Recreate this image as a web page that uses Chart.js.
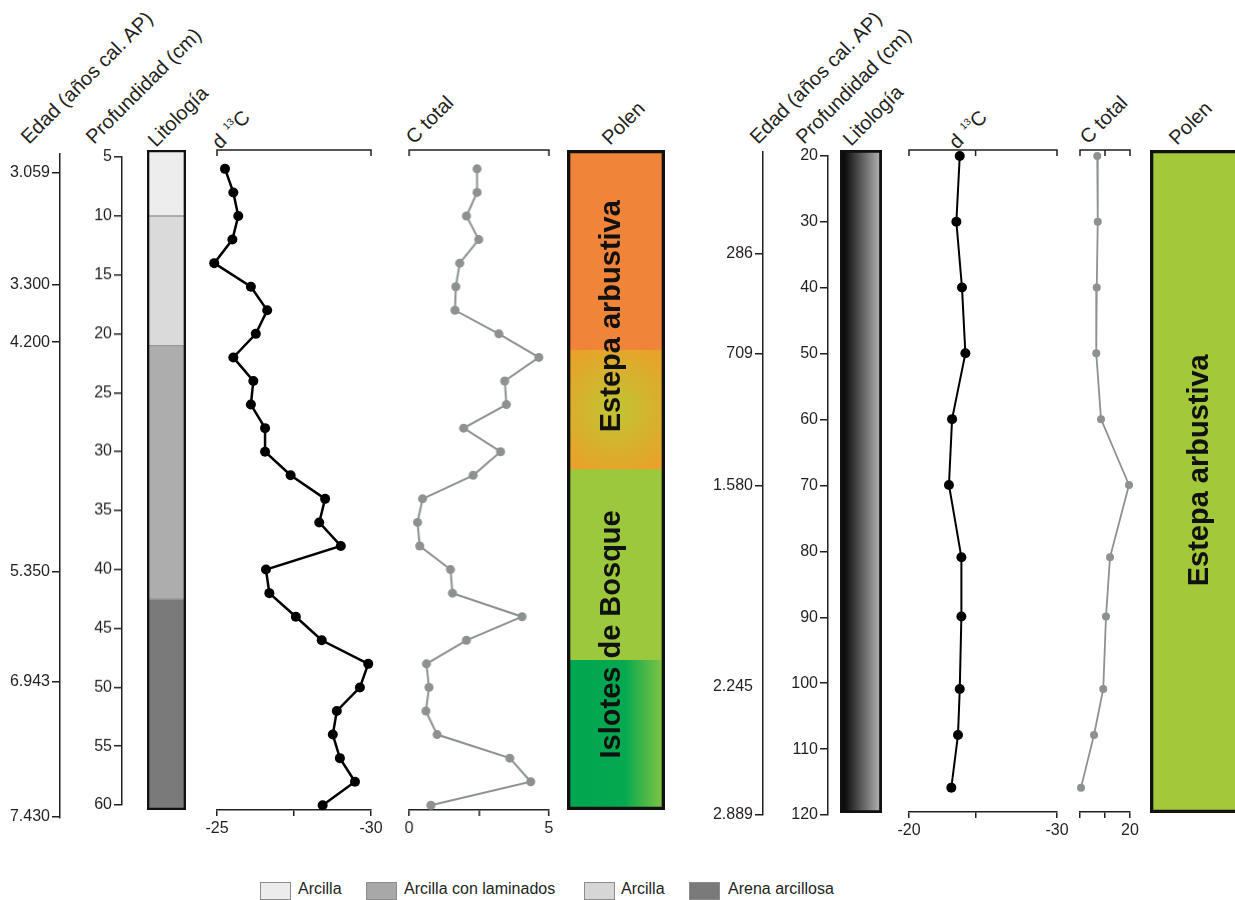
<!DOCTYPE html>
<html>
<head>
<meta charset="utf-8">
<script src="https://cdn.jsdelivr.net/npm/chart.js@4.4.1/dist/chart.umd.min.js"></script>
<style>
  body { margin: 0; background: #fff; width: 1235px; height: 900px; overflow: hidden; position: relative;
         font-family: "Liberation Sans", Arial, sans-serif; color: #231f20; }
  canvas { position: absolute; }
  .hd { position: absolute; font-size: 20px; line-height: 20px; white-space: nowrap;
        transform-origin: 0 100%; transform: rotate(-45deg); }
  .hd sup { font-size: 10px; vertical-align: 9px; margin-left: 2px; }
  .box { position: absolute; top: 882px; width: 31px; height: 18px; border: 1px solid #8c8c8c; box-sizing: border-box; }
  .lt { position: absolute; top: 879px; font-size: 16px; line-height: 20px; white-space: nowrap; }
</style>
</head>
<body>

<!-- column headers, left core -->
<div class="hd" style="left:31px;top:127px">Edad (años cal. AP)</div>
<div class="hd" style="left:96px;top:127px">Profundidad (cm)</div>
<div class="hd" style="left:158px;top:130px">Litología</div>
<div class="hd" style="left:222px;top:127px">d <sup>13</sup>C</div>
<div class="hd" style="left:416px;top:127px">C total</div>
<div class="hd" style="left:612px;top:128px">Polen</div>
<!-- column headers, right core -->
<div class="hd" style="left:760px;top:127px">Edad (años cal. AP)</div>
<div class="hd" style="left:806px;top:127px">Profundidad (cm)</div>
<div class="hd" style="left:853px;top:129px">Litología</div>
<div class="hd" style="left:959px;top:127px">d <sup>13</sup>C</div>
<div class="hd" style="left:1090px;top:127px">C total</div>
<div class="hd" style="left:1179px;top:128px">Polen</div>

<!-- lithology legend -->
<div class="box" style="left:260px;background:#ececec"></div><div class="lt" style="left:298px">Arcilla</div>
<div class="box" style="left:366px;background:#a8a8a8"></div><div class="lt" style="left:404px">Arcilla con laminados</div>
<div class="box" style="left:584px;background:#d6d6d6"></div><div class="lt" style="left:621px">Arcilla</div>
<div class="box" style="left:689px;background:#7a7a7a"></div><div class="lt" style="left:728px">Arena arcillosa</div>

<script>
// ---- left core (5-60 cm) ----
const depthL = [6, 8, 10, 12, 14, 16, 18, 20, 22, 24, 26, 28, 30, 32, 34, 36, 38, 40, 42, 44, 46, 48, 50, 52, 54, 56, 58, 60];
const d13cL = [-25.26, -25.53, -25.69, -25.5, -24.91, -26.1, -26.63, -26.26, -25.53, -26.18, -26.1, -26.56, -26.56, -27.39,
               -28.51, -28.32, -29.02, -26.59, -26.7, -27.56, -28.4, -29.91, -29.64, -28.89, -28.76, -28.99, -29.48, -28.43];
const ctotL = [2.43, 2.43, 2.05, 2.49, 1.81, 1.67, 1.64, 3.21, 4.64, 3.42, 3.48, 1.95, 3.27, 2.29,
               0.48, 0.3, 0.38, 1.48, 1.55, 4.04, 2.05, 0.62, 0.71, 0.6, 1.0, 3.6, 4.35, 0.78];
const depthTicksL = [5, 10, 15, 20, 25, 30, 35, 40, 45, 50, 55, 60];
const ageTextL = ['3.059', '3.300', '4.200', '5.350', '6.943', '7.430'];
const ageDepthL = [6.3, 15.8, 20.7, 40.2, 49.5, 61.0];
const lithTopL = [4.4, 10, 21, 42.5];
const lithBaseL = [10, 21, 42.5, 60.4];
const zoneTopL = [4.4, 21.35, 31.45, 47.65];
const zoneBaseL = [21.35, 31.45, 47.65, 60.4];
const zoneNamesL = ['Estepa arbustiva', 'Islotes de Bosque'];
const zoneNameAtL = [18.5, 45.5];
const d13cTicksL = [-25, -27.5, -30], d13cTextL = ['-25', '', '-30'];
const ctotTicksL = [0, 2.5, 5], ctotTextL = ['0', '', '5'];

// ---- right core (20-120 cm) ----
const depthR = [20, 30, 40, 50, 60, 70, 81, 90, 101, 108, 116];
const d13cR = [-23.43, -23.2, -23.58, -23.81, -22.91, -22.7, -23.54, -23.54, -23.43, -23.31, -22.86];
const ctotR = [6.9, 7.1, 6.7, 6.5, 8.4, 19.6, 12.0, 10.4, 9.3, 5.6, 0.4];
const depthTicksR = [20, 30, 40, 50, 60, 70, 80, 90, 100, 110, 120];
const ageTextR = ['286', '709', '1.580', '2.245', '2.889'];
const ageDepthR = [34.8, 50, 70.1, 100.5, 120];
const lithTopR = [19.1], lithBaseR = [119.7];
const zoneTopR = [19.1], zoneBaseR = [119.7];
const zoneNamesR = ['Estepa arbustiva'];
const zoneNameAtR = [67.7];
const d13cTicksR = [-20, -24.5, -30], d13cTextR = ['-20', '', '-30'];
const ctotTicksR = [0, 10, 20], ctotTextR = ['', '', '20'];

const ink = '#231f20';
Chart.defaults.font.family = '"Liberation Sans", Arial, sans-serif';
Chart.defaults.color = ink;
Chart.defaults.animation = false;
Chart.defaults.plugins.legend.display = false;
Chart.defaults.plugins.tooltip.enabled = false;

const PAD = 24;   // spare room round a plot area
const AXH = 40;   // room kept for a bottom axis

function canvasAt(x, y, w, h) {
  const c = document.createElement('canvas');
  c.width = w; c.height = h;
  c.style.left = x + 'px'; c.style.top = y + 'px';
  c.style.width = w + 'px'; c.style.height = h + 'px';
  document.body.appendChild(c);
  return c.getContext('2d');
}

// top axis line with hooks pointing down
const topAxis = {
  id: 'topAxis',
  afterDraw(chart, args, opts) {
    const {ctx, chartArea: a} = chart;
    const sx = chart.scales.x;
    ctx.save();
    ctx.strokeStyle = ink; ctx.lineWidth = 1.5;
    ctx.beginPath();
    ctx.moveTo(a.left, a.top + 6); ctx.lineTo(a.left, a.top);
    ctx.lineTo(a.right, a.top); ctx.lineTo(a.right, a.top + 6);
    (opts.marks || []).forEach(v => {
      const x = sx.getPixelForValue(v);
      ctx.moveTo(x, a.top); ctx.lineTo(x, a.top + 6);
    });
    ctx.stroke();
    ctx.restore();
  }
};

// zone names written down the pollen column
const zoneText = {
  id: 'zoneText',
  afterDatasetsDraw(chart, args, opts) {
    if (!opts.names) return;
    const {ctx, chartArea: a} = chart;
    const sy = chart.scales.y;
    ctx.save();
    ctx.fillStyle = '#111';
    ctx.font = 'bold 29px "Liberation Sans", Arial, sans-serif';
    ctx.textAlign = 'center'; ctx.textBaseline = 'middle';
    opts.names.forEach((t, i) => {
      ctx.save();
      ctx.translate((a.left + a.right) / 2 + (opts.dx || 0), sy.getPixelForValue(opts.at[i]));
      ctx.rotate(-Math.PI / 2);
      ctx.fillText(t, 0, 0);
      ctx.restore();
    });
    ctx.restore();
  }
};

// vertical axis only (age or depth)
function axisChart(axisX, top, bottom, min, max, vals, texts, hidden) {
  const W = 70;
  const ctx = canvasAt(axisX - W, top - PAD, W + 6, bottom - top + 2 * PAD);
  return new Chart(ctx, {
    type: 'scatter',
    data: {datasets: []},
    options: {
      responsive: false,
      layout: {autoPadding: false, padding: {left: 0, right: 6, top: PAD, bottom: PAD}},
      scales: {
        x: {display: false, min: 0, max: 1},
        y: {
          position: 'left', reverse: true, min: min, max: max,
          afterFit: s => { s.width = W; },
          afterBuildTicks: s => { s.ticks = vals.map(v => ({value: v})); },
          border: {color: ink, width: 1.5},
          grid: {drawOnChartArea: false, tickLength: 8, lineWidth: 1.5,
                 color: c => (hidden && hidden.includes(c.index)) ? 'rgba(0,0,0,0)' : ink},
          ticks: {autoSkip: false, padding: 2, font: {size: 16}, color: ink,
                  callback: (v, i) => texts[i]}
        }
      }
    }
  });
}

// depth profile of one proxy
function plotChart(area, yMin, yMax, xMin, xMax, xTicks, xText, marks, datasets) {
  const [x0, y0, x1, y1] = area;
  const ctx = canvasAt(x0 - PAD, y0 - PAD, x1 - x0 + 2 * PAD, y1 - y0 + PAD + AXH);
  return new Chart(ctx, {
    type: 'scatter',
    data: {datasets: datasets},
    plugins: [topAxis],
    options: {
      responsive: false,
      layout: {autoPadding: false, padding: {left: PAD, right: PAD, top: PAD, bottom: 0}},
      plugins: {topAxis: {marks: marks}},
      scales: {
        x: {
          type: 'linear', position: 'bottom', min: Math.min(xMin, xMax), max: Math.max(xMin, xMax),
          reverse: xMin > xMax,
          afterFit: s => { s.height = AXH; },
          afterBuildTicks: s => { s.ticks = xTicks.map(v => ({value: v})); },
          border: {color: ink, width: 1.5},
          grid: {drawOnChartArea: false, tickLength: 6, color: ink, lineWidth: 1.5},
          ticks: {autoSkip: false, maxRotation: 0, padding: 3, font: {size: 16}, color: ink,
                  callback: (v, i) => xText[i]}
        },
        y: {display: false, reverse: true, min: yMin, max: yMax}
      }
    }
  });
}

function series(xs, ys, color, width, radius) {
  return {
    data: ys.map((d, i) => ({x: xs[i], y: d})),
    showLine: true, borderColor: color, borderWidth: width,
    pointRadius: radius, pointBackgroundColor: color, pointBorderWidth: 0,
    clip: false
  };
}

// lithology / pollen column from floating bars
function columnChart(area, yMin, yMax, layers, outlineWidth, names) {
  const [x0, y0, x1, y1] = area;
  const ctx = canvasAt(x0 - PAD, y0 - PAD, x1 - x0 + 2 * PAD, y1 - y0 + 2 * PAD);
  const bar = {grouped: false, barPercentage: 1, categoryPercentage: 1, borderSkipped: false};
  const sets = [Object.assign({
    data: [[yMin, yMax]], backgroundColor: 'rgba(0,0,0,0)', borderColor: '#111', borderWidth: outlineWidth
  }, bar)];
  layers.forEach(l => sets.push(Object.assign({
    data: [[l.top, l.base]], backgroundColor: l.fill, borderColor: l.line || 'rgba(0,0,0,0)', borderWidth: l.line ? 1 : 0
  }, bar)));
  return new Chart(ctx, {
    type: 'bar',
    data: {labels: [''], datasets: sets},
    plugins: [zoneText],
    options: {
      responsive: false,
      layout: {autoPadding: false, padding: PAD},
      plugins: {zoneText: names || {}},
      scales: {
        x: {display: false},
        y: {display: false, reverse: true, min: yMin, max: yMax}
      }
    }
  });
}

// ---------- left core ----------
const LTOP = 4.4, LBASE = 60.4;
axisChart(60, 154, 818, 4.72, 61.1, ageDepthL, ageTextL);
axisChart(122, 157.3, 805, 5, 60, depthTicksL, depthTicksL.map(String));

const lithFillL = ['#ededed', '#dadada', '#adadad', '#7a7a7a'];
columnChart([147, 150, 186, 810], LTOP, LBASE,
  lithTopL.map((t, i) => ({top: t, base: lithBaseL[i], fill: lithFillL[i], line: '#9a9a9a'})), 2);

plotChart([216.7, 150, 370.7, 810], LTOP, LBASE, -25, -30, d13cTicksL, d13cTextL, [],
  [series(d13cL, depthL, '#000', 2.5, 5)]);
plotChart([409.3, 150, 549.3, 810], LTOP, LBASE, 0, 5, ctotTicksL, ctotTextL, [],
  [series(ctotL, depthL, '#8d9191', 2, 4.5)]);

function yellowZone(c) {
  const ch = c.chart, a = ch.chartArea;
  if (!a) return '#d6b22c';
  const xc = (a.left + a.right) / 2;
  const yc = ch.scales.y.getPixelForValue((zoneTopL[1] + zoneBaseL[1]) / 2);
  const g = ch.ctx.createRadialGradient(xc, yc, 4, xc, yc, 68);
  g.addColorStop(0, '#c2c334'); g.addColorStop(1, '#e8a229');
  return g;
}
function forestZone(c) {
  const ch = c.chart, a = ch.chartArea;
  if (!a) return '#00a651';
  const g = ch.ctx.createLinearGradient(a.left, 0, a.right, 0);
  g.addColorStop(0, '#00a651'); g.addColorStop(0.58, '#04a84f'); g.addColorStop(1, '#86c541');
  return g;
}
const zoneFillL = ['#f08439', yellowZone, '#9bc83c', forestZone];
columnChart([567, 150, 665, 810], LTOP, LBASE,
  zoneTopL.map((t, i) => ({top: t, base: zoneBaseL[i], fill: zoneFillL[i]})), 3,
  {names: zoneNamesL, at: zoneNameAtL, dx: -4});

// ---------- right core ----------
const RTOP = 19.1, RBASE = 119.7;
axisChart(763, 152, 815, 19.44, 120, ageDepthR, ageTextR, [3]);
axisChart(828, 155.7, 815, 20, 120, depthTicksR, depthTicksR.map(String));

function coreShade(c) {
  const ch = c.chart, a = ch.chartArea;
  if (!a) return '#555';
  const g = ch.ctx.createLinearGradient(a.left, 0, a.right, 0);
  g.addColorStop(0, '#000'); g.addColorStop(0.15, '#141414'); g.addColorStop(1, '#bababa');
  return g;
}
columnChart([840, 150, 882, 813], RTOP, RBASE,
  lithTopR.map((t, i) => ({top: t, base: lithBaseR[i], fill: coreShade})), 2.5);

plotChart([909.3, 150, 1057.3, 812], RTOP, RBASE, -20, -30, d13cTicksR, d13cTextR, [-24.5],
  [series(d13cR, depthR, '#000', 2, 5)]);
plotChart([1080, 150, 1130, 812], RTOP, RBASE, 0, 20, ctotTicksR, ctotTextR, [10],
  [series(ctotR, depthR, '#8d9191', 1.8, 4)]);

columnChart([1150, 150, 1252, 813], RTOP, RBASE,
  zoneTopR.map((t, i) => ({top: t, base: zoneBaseR[i], fill: '#a3c83a'})), 3,
  {names: zoneNamesR, at: zoneNameAtR, dx: -1});
</script>
</body>
</html>
